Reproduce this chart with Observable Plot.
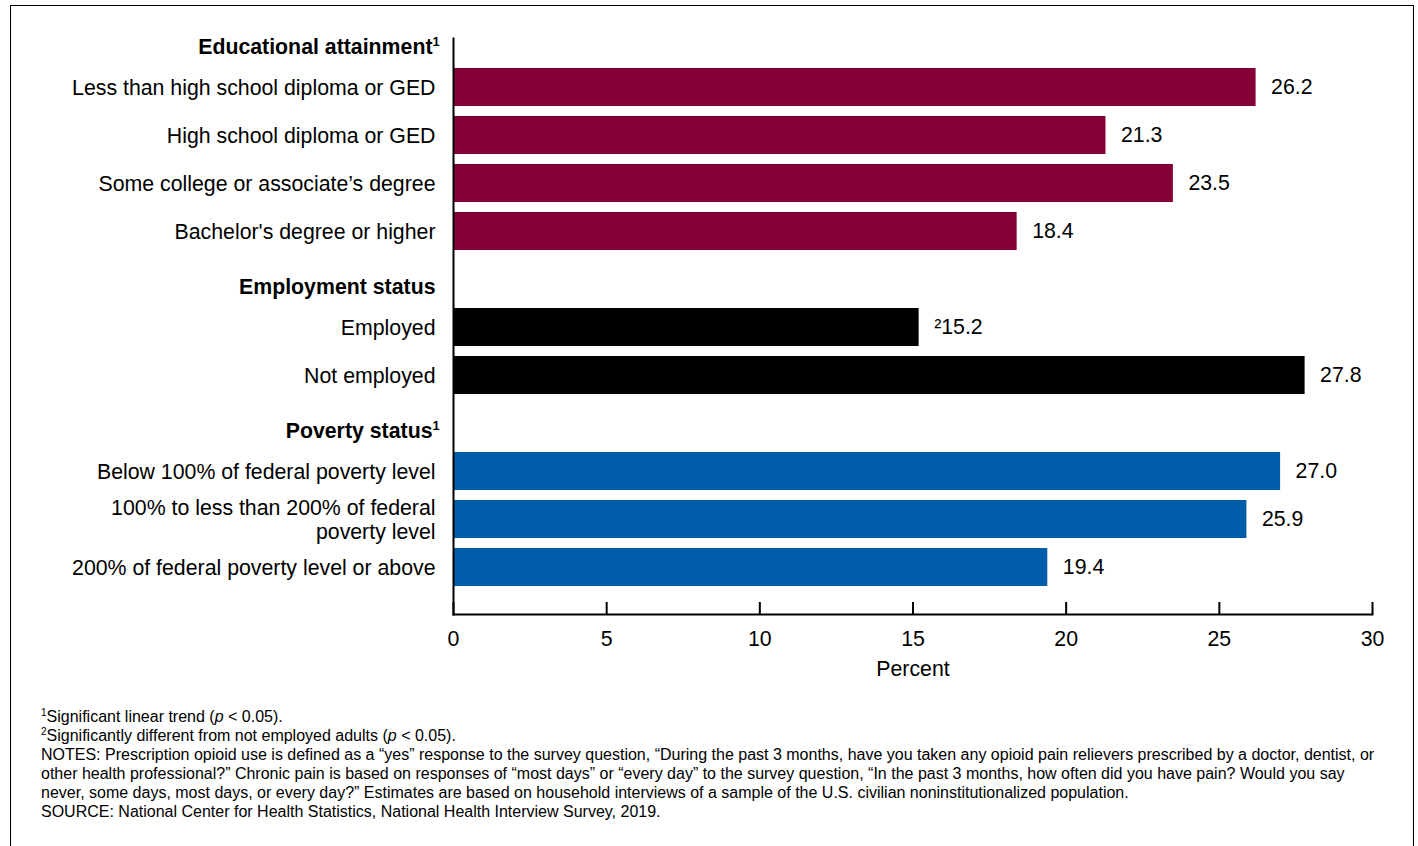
<!DOCTYPE html>
<html><head><meta charset="utf-8">
<script src="https://cdn.jsdelivr.net/npm/d3@7"></script>
<script src="https://cdn.jsdelivr.net/npm/@observablehq/plot@0.6"></script>
<style>
body{margin:0;background:#fff;font-family:"Liberation Sans",Arial,sans-serif;}
#border{position:absolute;left:10px;top:5px;width:1404px;height:900px;border:1px solid #000;box-sizing:border-box}
#chart{position:absolute;left:0;top:0}
#notes{position:absolute;left:41px;top:707px;font-size:16px;line-height:19px;color:#000;width:1340px}
#notes p{margin:0}
sup{font-size:10px;line-height:0;vertical-align:6px}
</style>
</head><body>
<div id="border"></div>
<div id="chart"></div>
<div id="notes">
<p><sup>1</sup>Significant linear trend (<i>p</i> &lt; 0.05).</p>
<p><sup>2</sup>Significantly different from not employed adults (<i>p</i> &lt; 0.05).</p>
<p>NOTES: Prescription opioid use is defined as a “yes” response to the survey question, “During the past 3 months, have you taken any opioid pain relievers prescribed by a doctor, dentist, or other health professional?” Chronic pain is based on responses of “most days” or “every day” to the survey question, “In the past 3 months, how often did you have pain? Would you say never, some days, most days, or every day?” Estimates are based on household interviews of a sample of the U.S. civilian noninstitutionalized population.</p>
<p>SOURCE: National Center for Health Statistics, National Health Interview Survey, 2019.</p>
</div>
<script>
const groups = ["Educational attainment", "Employment status", "Poverty status"];
const headingLabels = ["Educational attainment", "Employment status", "Poverty status"];
const headingFootnote = ["1", "", "1"];
const groupColors = ["#860038", "#000000", "#005DAA"];
const categories = [
  "Less than high school diploma or GED",
  "High school diploma or GED",
  "Some college or associate’s degree",
  "Bachelor's degree or higher",
  "Employed",
  "Not employed",
  "Below 100% of federal poverty level",
  "100% to less than 200% of federal\npoverty level",
  "200% of federal poverty level or above"
];
const categoryGroup = [
  "Educational attainment", "Educational attainment", "Educational attainment", "Educational attainment",
  "Employment status", "Employment status",
  "Poverty status", "Poverty status", "Poverty status"
];
const values = [26.2, 21.3, 23.5, 18.4, 15.2, 27.8, 27.0, 25.9, 19.4];
const valueLabels = ["26.2", "21.3", "23.5", "18.4", "²15.2", "27.8", "27.0", "25.9", "19.4"];
const xTicks = [0, 5, 10, 15, 20, 25, 30];

const FS = 21.3;
const bars = categories.map((c, j) => ({key: c, label: c, group: categoryGroup[j], value: values[j], valueLabel: valueLabels[j]}));
const headings = groups.map((g, i) => ({key: "H:" + g, label: headingLabels[i], note: headingFootnote[i]}));
const domain = [];
groups.forEach((g, i) => {
  domain.push("H:" + g);
  bars.forEach(b => { if (b.group === g) domain.push(b.key); });
});

const chart = Plot.plot({
  width: 1418,
  height: 690,
  marginLeft: 453,
  marginRight: 46,
  marginTop: 38,
  marginBottom: 76,
  style: {fontFamily: "'Liberation Sans', Arial, sans-serif", fontSize: FS + "px", color: "#000", background: "transparent"},
  x: {domain: [0, 30]},
  y: {domain, range: [15, 591], paddingInner: 0.2, paddingOuter: 0.1, axis: null},
  color: {domain: groups, range: groupColors},
  marks: [
    Plot.barX(bars, {y: "key", x: "value", fill: "group"}),
    Plot.text(bars, {y: "key", x: "value", text: "valueLabel", textAnchor: "start", dx: 15, fontSize: FS}),
    Plot.text(bars, {y: "key", x: 0, text: "label", textAnchor: "end", dx: -18, fontSize: FS, lineHeight: 1.13}),
    Plot.text(headings, {filter: d => d.note, y: "key", x: 0, text: "label", textAnchor: "end", dx: -21, dy: 8, fontSize: FS, fontWeight: "bold"}),
    Plot.text(headings, {filter: d => d.note, y: "key", x: 0, text: "note", textAnchor: "start", dx: -21, dy: 2, fontSize: 13, fontWeight: "bold"}),
    Plot.text(headings, {filter: d => !d.note, y: "key", x: 0, text: "label", textAnchor: "end", dx: -18, dy: 8, fontSize: FS, fontWeight: "bold"}),
    Plot.ruleX(xTicks, {insetTop: 564, strokeWidth: 2}),
    Plot.frame({anchor: "left", strokeWidth: 2}),
    Plot.frame({anchor: "bottom", strokeWidth: 2}),
    Plot.axisX({ticks: xTicks, tickSize: 0, tickPadding: 16, fontSize: FS, label: null}),
    Plot.text(["Percent"], {frameAnchor: "bottom", text: d => d, dy: 61, fontSize: FS})
  ]
});
document.getElementById("chart").appendChild(chart);
</script>
</body></html>
